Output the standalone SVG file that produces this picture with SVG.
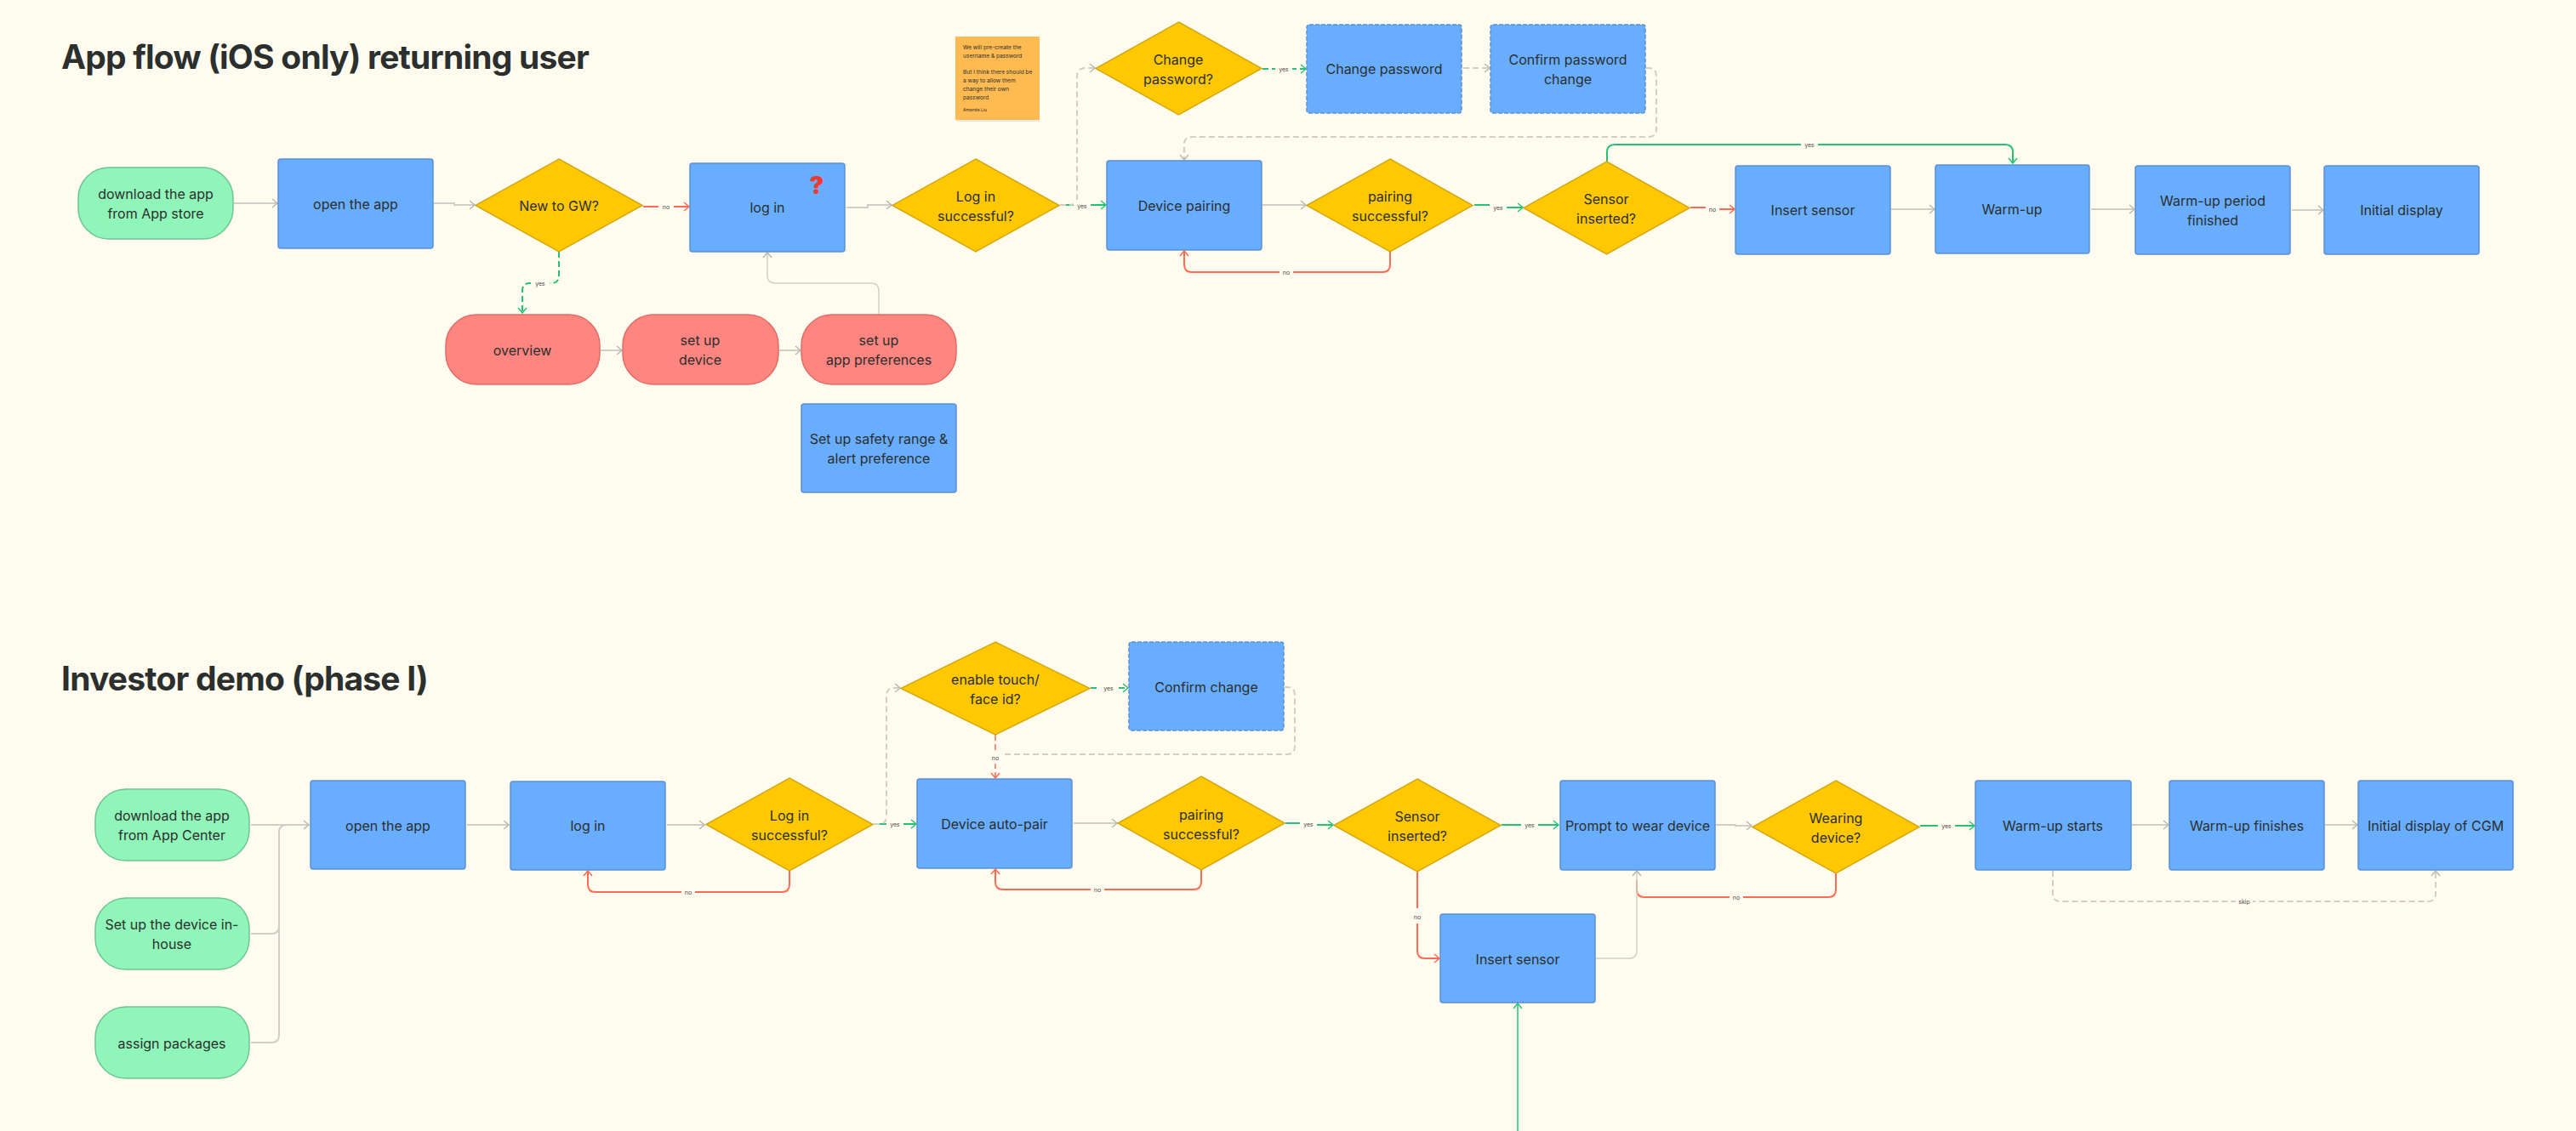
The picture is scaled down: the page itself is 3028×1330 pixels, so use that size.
<svg xmlns="http://www.w3.org/2000/svg" width="3028" height="1330" viewBox="0 0 3028 1330">
<style>
text{font-family:Inter,"Noto Sans","Liberation Sans",sans-serif;fill:#2b2f2e}
.t{font-size:16px;text-anchor:middle}
.title{font-size:39px;font-weight:700;letter-spacing:-.8px}
.blue{fill:#69adff;stroke:#5a90d6;stroke-width:1.5}
.dash{stroke-dasharray:5 2}
.dia{fill:#ffc800;stroke:#d6a80f;stroke-width:1.5}
.grn{fill:#90f5b8;stroke:#6fc495;stroke-width:1.5}
.redn{fill:#ff8580;stroke:#e06c68;stroke-width:1.5}
.c{fill:none;stroke-width:2}
.g{stroke:#cfcfc8;marker-end:url(#ag)}
.s{stroke:#25c275;marker-end:url(#as)}
.r{stroke:#ff6b52;marker-end:url(#ar)}
.d{stroke-dasharray:7 4}
.lb{fill:#fffcef}
.l{font-size:7px;text-anchor:middle;fill:#4a4a4a}
.st{font-size:6.6px}
</style>
<defs>
<marker id="ag" markerUnits="userSpaceOnUse" markerWidth="12" markerHeight="14" refX="10" refY="7" orient="auto"><path d="M4 2 L10 7 L4 12" fill="none" stroke="#b9b9b2" stroke-width="1.5"/></marker>
<marker id="as" markerUnits="userSpaceOnUse" markerWidth="12" markerHeight="14" refX="10" refY="7" orient="auto"><path d="M4 2 L10 7 L4 12" fill="none" stroke="#25c275" stroke-width="1.5"/></marker>
<marker id="ar" markerUnits="userSpaceOnUse" markerWidth="12" markerHeight="14" refX="10" refY="7" orient="auto"><path d="M4 2 L10 7 L4 12" fill="none" stroke="#ff6b52" stroke-width="1.5"/></marker>
</defs>
<rect width="3028" height="1330" fill="#fffcef"/>
<text id="title1" class="title" x="72" y="81">App flow (iOS only) returning user</text>
<text id="title2" class="title" x="72" y="812">Investor demo (phase I)</text>

<g id="connectors">
<path class="c g" d="M275 239H326"/>
<path class="c g" d="M510 239H534V241H558"/>
<path class="c r" d="M756 243H810"/>
<path class="c g" d="M995 244H1020V241H1048"/>
<path class="c s d" d="M657 296V324Q657 333 648 333H623Q614 333 614 342V368"/>
<path class="c g" d="M706 412H731"/>
<path class="c g" d="M916 412H941"/>
<path class="c g" style="stroke-width:1.5" d="M1033 370V342Q1033 333 1024 333H911Q902 333 902 324V297"/>
<path class="c s" d="M1246 241H1300"/>
<path class="c g d" d="M1246 241H1257Q1266 241 1266 232V90Q1266 80 1276 80H1287"/>
<path class="c s d" d="M1484 81H1535"/>
<path class="c g d" d="M1720 80H1751"/>
<path class="c g d" d="M1935 80H1938Q1947 80 1947 90V152Q1947 161 1938 161H1401Q1392 161 1392 170V188"/>
<path class="c g" d="M1484 241H1535"/>
<path class="c r" d="M1634 296V311Q1634 320 1625 320H1401Q1392 320 1392 311V295"/>
<path class="c s" d="M1733 241H1760V244H1790"/>
<path class="c r" d="M1987 244H2010V246H2039"/>
<path class="c s" d="M1889 190V179Q1889 170 1898 170H2357Q2366 170 2366 179V192"/>
<path class="c g" d="M2223 246H2274"/>
<path class="c g" d="M2458 246H2509"/>
<path class="c g" d="M2694 247H2731"/>

<path class="c g" d="M295 970H363"/>
<path class="c g" style="marker-end:none" d="M295 1098H319Q328 1098 328 1089V979Q328 970 337 970"/>
<path class="c g" style="marker-end:none" d="M295 1226H319Q328 1226 328 1217V1090"/>
<path class="c g" d="M549 970H598"/>
<path class="c g" d="M784 970H828"/>
<path class="c r" d="M928 1024V1040Q928 1049 919 1049H700Q691 1049 691 1040V1024"/>
<path class="c s" d="M1027 969H1077"/>
<path class="c g d" d="M1027 969H1033Q1042 969 1042 960V819Q1042 809 1050 809H1058"/>
<path class="c s d" d="M1282 809H1326"/>
<path class="c g d" style="marker-end:none" d="M1510 808H1513Q1522 808 1522 817V878Q1522 887 1513 887H1178"/>
<path class="c r d" style="stroke-width:1.5" d="M1170 864V915"/>
<path class="c g" d="M1262 968H1313"/>
<path class="c r" d="M1412 1023V1037Q1412 1046 1403 1046H1179Q1170 1046 1170 1037V1022"/>
<path class="c s" d="M1511 968H1540V970H1567"/>
<path class="c s" d="M1765 970H1832"/>
<path class="c g" d="M2017 970H2040V971H2059"/>
<path class="c r" d="M2158 1027V1046Q2158 1055 2149 1055H1933Q1924 1055 1924 1046V1035" style="marker-end:none"/>
<path class="c g" style="stroke-width:1.5" d="M1876 1127H1915Q1924 1127 1924 1118V1024"/>
<path class="c s" d="M2257 971H2321"/>
<path class="c g" d="M2506 970H2549"/>
<path class="c g" d="M2733 970H2771"/>
<path class="c g d" d="M2413 1024V1051Q2413 1060 2422 1060H2854Q2863 1060 2863 1051V1024"/>
<path class="c r" d="M1666 1025V1118Q1666 1127 1675 1127H1692"/>
<path class="c s" style="stroke-width:1.5" d="M1784 1330V1180"/>

<g id="labels">
<rect class="lb" x="774" y="236" width="18" height="13"/><text class="l" x="783" y="246">no</text>
<rect class="lb" x="624" y="327" width="22" height="13"/><text class="l" x="635" y="336">yes</text>
<rect class="lb" x="1262" y="235" width="20" height="13"/><text class="l" x="1272" y="245">yes</text>
<rect class="lb" x="1499" y="75" width="20" height="13"/><text class="l" x="1509" y="84">yes</text>
<rect class="lb" x="1504" y="314" width="16" height="13"/><text class="l" x="1512" y="323">no</text>
<rect class="lb" x="1751" y="237" width="20" height="13"/><text class="l" x="1761" y="247">yes</text>
<rect class="lb" x="2005" y="240" width="16" height="13"/><text class="l" x="2013" y="249">no</text>
<rect class="lb" x="2117" y="164" width="20" height="13"/><text class="l" x="2127" y="173">yes</text>
<rect class="lb" x="801" y="1043" width="16" height="13"/><text class="l" x="809" y="1052">no</text>
<rect class="lb" x="1042" y="963" width="20" height="13"/><text class="l" x="1052" y="972">yes</text>
<rect class="lb" x="1293" y="803" width="20" height="13"/><text class="l" x="1303" y="812">yes</text>
<rect class="lb" x="1162" y="885" width="16" height="13"/><text class="l" x="1170" y="894">no</text>
<rect class="lb" x="1282" y="1040" width="16" height="13"/><text class="l" x="1290" y="1049">no</text>
<rect class="lb" x="1528" y="963" width="20" height="13"/><text class="l" x="1538" y="972">yes</text>
<rect class="lb" x="1788" y="964" width="20" height="13"/><text class="l" x="1798" y="973">yes</text>
<rect class="lb" x="2033" y="1049" width="16" height="13"/><text class="l" x="2041" y="1058">no</text>
<rect class="lb" x="2278" y="965" width="20" height="13"/><text class="l" x="2288" y="974">yes</text>
<rect class="lb" x="2628" y="1054" width="20" height="13"/><text class="l" x="2638" y="1063">skip</text>
<rect class="lb" x="1658" y="1068" width="16" height="18"/><text class="l" x="1666" y="1081">no</text>
</g>
</g>

<g id="n-sticky"><rect x="1124" y="44" width="98" height="99" fill="#d8d8d0" opacity=".5"/><rect x="1123" y="43" width="99" height="98" fill="#ffba52"/>
<text class="st" x="1132" y="58">We will pre-create the</text><text class="st" x="1132" y="68">username &amp; password</text><text class="st" x="1132" y="87">But I think there should be</text><text class="st" x="1132" y="97">a way to allow them</text><text class="st" x="1132" y="107">change their own</text><text class="st" x="1132" y="117">password</text><text x="1132" y="131" style="font-size:5px">Amanda Liu</text></g>

<g id="n-download1"><rect class="grn" x="92" y="197" width="182" height="84" rx="36"/><text class="t" x="183" y="234">download the app</text><text class="t" x="183" y="257">from App store</text></g>
<g id="n-open1"><rect class="blue" x="327" y="187" width="182" height="105" rx="3"/><text class="t" x="418" y="246">open the app</text></g>
<g id="n-new"><polygon class="dia" points="657,187 755,241.5 657,296 559,241.5"/><text class="t" x="657" y="248">New to GW?</text></g>
<g id="n-login1"><rect class="blue" x="811" y="192" width="182" height="104" rx="3"/><text class="t" x="902" y="250">log in</text><text x="960" y="228" style="font-size:28px;font-weight:900;fill:#f03a2e;text-anchor:middle">?</text></g>
<g id="n-overview"><rect class="redn" x="524" y="370" width="181" height="82" rx="36"/><text class="t" x="614" y="418">overview</text></g>
<g id="n-device"><rect class="redn" x="732" y="370" width="183" height="82" rx="36"/><text class="t" x="823" y="406">set up</text><text class="t" x="823" y="429">device</text></g>
<g id="n-prefs"><rect class="redn" x="942" y="370" width="182" height="82" rx="36"/><text class="t" x="1033" y="406">set up</text><text class="t" x="1033" y="429">app preferences</text></g>
<g id="n-safety"><rect class="blue" x="942" y="475" width="182" height="104" rx="3"/><text class="t" x="1033" y="522">Set up safety range &amp;</text><text class="t" x="1033" y="545">alert preference</text></g>
<g id="n-logok1"><polygon class="dia" points="1147,187 1245,241.5 1147,296 1049,241.5"/><text class="t" x="1147" y="237">Log in</text><text class="t" x="1147" y="260">successful?</text></g>
<g id="n-changeq"><polygon class="dia" points="1385.5,26 1483,80.5 1385.5,135 1288,80.5"/><text class="t" x="1385" y="76">Change</text><text class="t" x="1385" y="99">password?</text></g>
<g id="n-change"><rect class="blue dash" x="1536" y="29" width="182" height="104" rx="3"/><text class="t" x="1627" y="87">Change password</text></g>
<g id="n-confirm"><rect class="blue dash" x="1752" y="29" width="182" height="104" rx="3"/><text class="t" x="1843" y="76">Confirm password</text><text class="t" x="1843" y="99">change</text></g>
<g id="n-pair"><rect class="blue" x="1301" y="189" width="182" height="105" rx="3"/><text class="t" x="1392" y="248">Device pairing</text></g>
<g id="n-pairok"><polygon class="dia" points="1634,187 1731,241.5 1634,296 1536,241.5"/><text class="t" x="1634" y="237">pairing</text><text class="t" x="1634" y="260">successful?</text></g>
<g id="n-sensor1"><polygon class="dia" points="1888.5,190 1986,244.5 1888.5,299 1791,244.5"/><text class="t" x="1888" y="240">Sensor</text><text class="t" x="1888" y="263">inserted?</text></g>
<g id="n-insert1"><rect class="blue" x="2040" y="195" width="182" height="104" rx="3"/><text class="t" x="2131" y="253">Insert sensor</text></g>
<g id="n-warm"><rect class="blue" x="2275" y="194" width="181" height="104" rx="3"/><text class="t" x="2365" y="252">Warm-up</text></g>
<g id="n-period"><rect class="blue" x="2510" y="195" width="182" height="104" rx="3"/><text class="t" x="2601" y="242">Warm-up period</text><text class="t" x="2601" y="265">finished</text></g>
<g id="n-initial1"><rect class="blue" x="2732" y="195" width="182" height="104" rx="3"/><text class="t" x="2823" y="253">Initial display</text></g>

<g id="n-download2"><rect class="grn" x="112" y="928" width="181" height="84" rx="36"/><text class="t" x="202" y="965">download the app</text><text class="t" x="202" y="988">from App Center</text></g>
<g id="n-setup"><rect class="grn" x="112" y="1056" width="181" height="84" rx="36"/><text class="t" x="202" y="1093">Set up the device in-</text><text class="t" x="202" y="1116">house</text></g>
<g id="n-assign"><rect class="grn" x="112" y="1184" width="181" height="84" rx="36"/><text class="t" x="202" y="1233">assign packages</text></g>
<g id="n-open2"><rect class="blue" x="365" y="918" width="182" height="104" rx="3"/><text class="t" x="456" y="977">open the app</text></g>
<g id="n-login2"><rect class="blue" x="600" y="919" width="182" height="104" rx="3"/><text class="t" x="691" y="977">log in</text></g>
<g id="n-logok2"><polygon class="dia" points="928,915 1026,969.5 928,1024 830,969.5"/><text class="t" x="928" y="965">Log in</text><text class="t" x="928" y="988">successful?</text></g>
<g id="n-touch"><polygon class="dia" points="1170,755 1281,809.5 1170,864 1059,809.5"/><text class="t" x="1170" y="805">enable touch/</text><text class="t" x="1170" y="828">face id?</text></g>
<g id="n-confirm2"><rect class="blue dash" x="1327" y="755" width="182" height="104" rx="3"/><text class="t" x="1418" y="814">Confirm change</text></g>
<g id="n-autopair"><rect class="blue" x="1078" y="916" width="182" height="105" rx="3"/><text class="t" x="1169" y="975">Device auto-pair</text></g>
<g id="n-pairok2"><polygon class="dia" points="1412,913 1510,968 1412,1023 1314,968"/><text class="t" x="1412" y="964">pairing</text><text class="t" x="1412" y="987">successful?</text></g>
<g id="n-sensor2"><polygon class="dia" points="1666,916 1764,970.5 1666,1025 1568,970.5"/><text class="t" x="1666" y="966">Sensor</text><text class="t" x="1666" y="989">inserted?</text></g>
<g id="n-prompt"><rect class="blue" x="1834" y="918" width="182" height="105" rx="3"/><text class="t" x="1925" y="977">Prompt to wear device</text></g>
<g id="n-wearing"><polygon class="dia" points="2158,918 2256,972.5 2158,1027 2060,972.5"/><text class="t" x="2158" y="968">Wearing</text><text class="t" x="2158" y="991">device?</text></g>
<g id="n-warmstart"><rect class="blue" x="2322" y="918" width="183" height="105" rx="3"/><text class="t" x="2413" y="977">Warm-up starts</text></g>
<g id="n-warmfin"><rect class="blue" x="2550" y="918" width="182" height="105" rx="3"/><text class="t" x="2641" y="977">Warm-up finishes</text></g>
<g id="n-initial2"><rect class="blue" x="2772" y="918" width="182" height="105" rx="3"/><text class="t" x="2863" y="977">Initial display of CGM</text></g>
<g id="n-insert2"><rect class="blue" x="1693" y="1075" width="182" height="104" rx="3"/><text class="t" x="1784" y="1134">Insert sensor</text></g>
</svg>
